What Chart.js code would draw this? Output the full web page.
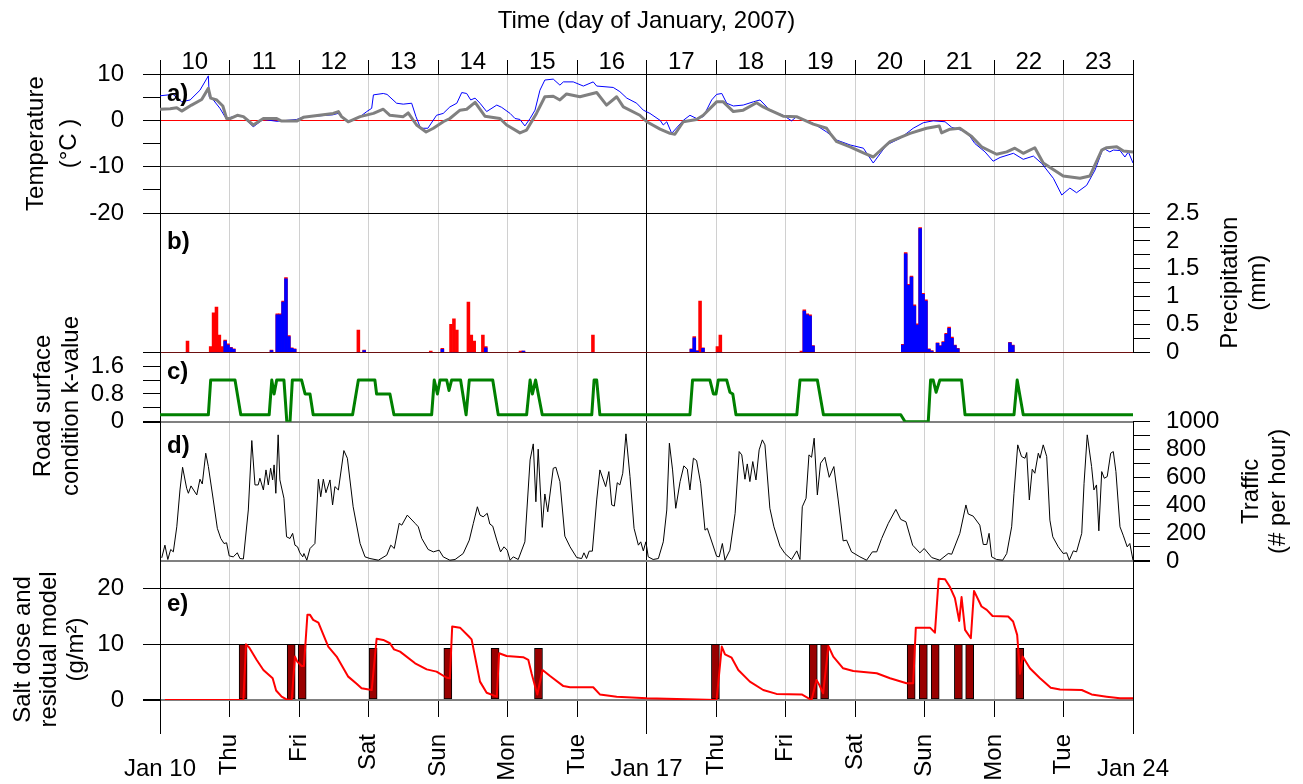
<!DOCTYPE html>
<html>
<head>
<meta charset="utf-8">
<title>Road weather, salt and traffic, January 2007</title>
<script src="https://cdn.jsdelivr.net/npm/chart.js@4.4.1/dist/chart.umd.min.js"></script>
<style>
  html, body { margin: 0; padding: 0; background: #fff; }
  #wrap { width: 1303px; height: 784px; position: relative; }
</style>
</head>
<body>
<div id="wrap"><canvas id="chart-canvas"></canvas></div>
<script>
// all times are hours since Jan 10 2007, 00:00
const dayNumbers = [10, 11, 12, 13, 14, 15, 16, 17, 18, 19, 20, 21, 22, 23];
const dayStartHours = [0, 24, 48, 72, 96, 120, 144, 168, 192, 216, 240, 264, 288, 312, 336];
const weekdayLabels = ['', 'Thu', 'Fri', 'Sat', 'Sun', 'Mon', 'Tue', '', 'Thu', 'Fri', 'Sat', 'Sun', 'Mon', 'Tue', ''];
const dateLabelHours = [0, 168, 336];
const dateLabels = ['Jan 10', 'Jan 17', 'Jan 24'];

const tempTicks = [-20, -15, -10, -5, 0, 5, 10];
const tempLabels = [-20, -10, 0, 10];
const precipTicks = [0, 0.25, 0.5, 0.75, 1, 1.25, 1.5, 1.75, 2, 2.25, 2.5];
const precipLabels = [0, 0.5, 1, 1.5, 2, 2.5];
const kTicks = [0, 0.4, 0.8, 1.2, 1.6, 2];
const kLabels = [0, 0.8, 1.6];
const trafficTicks = [0, 100, 200, 300, 400, 500, 600, 700, 800, 900, 1000];
const trafficLabels = [0, 200, 400, 600, 800, 1000];
const saltTicks = [0, 10, 20];

// a) temperature, thin blue and thick grey curves
const blueHours = [0, 4.5, 7.5, 10.4, 13.8, 16.7, 17.0, 18.4, 20.7, 22.8,
  26.6, 28.7, 32.2, 35.6, 40.4, 47.2, 49.4, 59.7, 61.5, 62.7,
  65.0, 69.1, 71.4, 73.1, 73.7, 77.1, 78.4, 81.7, 84.0, 86.9,
  88.4, 90.0, 92.5, 95.5, 97.8, 100.1, 102.5, 104.2, 105.9, 107.3,
  108.8, 110.5, 112.8, 116.3, 118.0, 120.9, 122.6, 124.3, 126.0, 127.8,
  129.5, 131.2, 132.9, 135.8, 138.1, 139.3, 142.7, 146.2, 149.6, 150.8,
  156.5, 158.8, 161.2, 164.6, 166.9, 169.2, 172.7, 173.8, 175.0, 176.7,
  180.7, 183.0, 185.3, 187.6, 190.5, 192.2, 194.0, 195.7, 198.0, 201.4,
  204.9, 207.2, 210.6, 215.2, 218.1, 219.8, 225.6, 230.2, 233.7, 238.3,
  242.9, 246.3, 250.9, 255.5, 260.1, 263.6, 267.0, 271.1, 273.4, 278.6,
  281.4, 284.9, 287.7, 290.1, 294.7, 298.1, 301.6, 304.5, 308.5, 311.4,
  314.2, 316.5, 320.0, 322.9, 325.7, 328.0, 329.2, 331.5, 333.2, 334.4, 336];
const blueTemp = [5.3, 5.6, 4.0, 4.4, 6.5, 9.6, 5.1, 4.4, 2.6, 0.4,
  1.0, 0.8, -1.4, 0.2, -0.2, 0.2, 0.7, 1.2, 1.5, 0.8,
  -0.3, 0.8, 1.9, 2.6, 5.5, 5.8, 5.6, 3.7, 3.5, 3.7,
  0.8, -1.7, -1.7, 1.1, 1.5, 2.9, 3.7, 6.0, 5.8, 4.4,
  4.8, 3.7, 1.9, 3.3, 2.8, 1.5, 0.4, 0.2, -1.2, 0.4,
  2.2, 6.5, 8.7, 8.9, 7.6, 8.3, 8.3, 7.4, 8.3, 7.4,
  7.1, 6.2, 4.8, 3.7, 2.2, 1.5, 0.0, -1.0, -0.3, -2.8,
  0.0, 1.1, 0.4, 0.8, 4.4, 5.6, 5.8, 3.7, 3.1, 3.3,
  4.0, 4.4, 2.2, 1.1, -0.1, 0.8, -0.65, -2.5, -4.25, -5.3,
  -6.0, -9.2, -5.3, -3.9, -1.7, -0.5, -0.1, -0.3, -1.5, -2.5,
  -5.0, -6.8, -8.8, -8.0, -7.1, -8.4, -7.7, -9.3, -12.5, -16.1,
  -14.6, -15.6, -14.0, -10.7, -6.0, -6.8, -6.4, -6.5, -7.9, -6.8, -9.2];
const greyHours = [0, 3.5, 5.8, 7.5, 10.9, 14.4, 16.7, 17.5, 19.6, 21.7,
  23.0, 24.2, 26.7, 28.8, 32.2, 35.7, 40.3, 42.0, 47.2, 49.5,
  59.8, 61.6, 62.7, 65.0, 69.1, 73.7, 77.1, 79.4, 84.0, 85.7,
  88.6, 91.9, 94.4, 97.8, 100.1, 103.6, 105.9, 108.8, 112.2, 117.4,
  119.7, 124.3, 126.6, 130.0, 132.9, 135.8, 138.1, 140.4, 145.0, 150.8,
  154.2, 157.7, 160.0, 165.7, 168.1, 172.7, 176.1, 177.8, 180.7, 185.3,
  187.6, 192.2, 194.5, 198.0, 201.4, 206.0, 208.3, 210.6, 215.2, 219.8,
  225.6, 230.2, 231.4, 233.7, 238.3, 242.9, 246.3, 252.1, 259.0, 264.7,
  269.1, 269.9, 272.8, 276.2, 280.3, 283.7, 288.9, 292.4, 295.2, 298.1,
  302.1, 305.0, 311.9, 317.7, 321.1, 325.2, 326.9, 330.4, 332.7, 336];
const greyTemp = [2.4, 2.5, 2.7, 2.0, 3.3, 4.5, 6.9, 4.8, 4.4, 3.1,
  0.4, 0.4, 1.1, 0.8, -1.0, 0.4, 0.4, -0.15, -0.15, 0.65,
  1.5, 1.9, 0.8, -0.3, 0.8, 1.5, 2.4, 1.1, 0.8, 1.6,
  -1.0, -2.5, -1.7, -0.3, 0.4, 2.2, 2.4, 3.9, 0.9, 0.4,
  -1.0, -2.7, -2.1, 1.5, 5.1, 5.2, 4.4, 5.7, 5.1, 6.0,
  3.3, 5.1, 2.9, 1.1, -0.3, -1.9, -2.8, -3.0, -0.3, 0.2,
  1.1, 4.0, 4.0, 1.9, 2.2, 3.8, 2.9, 2.2, 0.9, 0.8,
  -0.8, -1.7, -2.8, -4.6, -5.7, -7.0, -7.9, -4.6, -2.8, -1.7,
  -1.2, -2.7, -1.9, -1.7, -3.5, -5.7, -7.3, -6.8, -6.0, -7.1,
  -5.9, -9.2, -12.0, -12.5, -12.0, -6.4, -5.9, -5.7, -6.6, -6.8];

// b) hourly precipitation (hour index, total in red, snow part in blue)
const precipHour = [9, 17, 18, 19, 20, 21, 22, 23, 24, 25, 38, 40, 41, 42, 43, 44, 45, 46,
  68, 70, 93, 97, 100, 101, 102, 106, 107, 108, 111, 112, 124, 125, 149,
  183, 184, 185, 186, 187, 192, 193, 221, 222, 223, 224, 225,
  256, 257, 258, 259, 260, 261, 262, 263, 264, 265, 266,
  268, 269, 270, 271, 272, 273, 274, 275, 293, 294];
const precipTotal = [0.2, 0.1, 0.71, 0.81, 0.31, 0.1, 0.22, 0.15, 0.09, 0.06, 0.04, 0.69, 0.69, 0.92, 1.34, 0.3, 0.08, 0.06,
  0.4, 0.04, 0.02, 0.07, 0.5, 0.6, 0.4, 0.9, 0.31, 0.2, 0.31, 0.1, 0.02, 0.02, 0.31,
  0.06, 0.28, 0.03, 0.92, 0.08, 0.1, 0.31, 0.02, 0.76, 0.69, 0.67, 0.12,
  0.14, 1.79, 1.22, 1.37, 0.85, 0.51, 2.24, 1.06, 0.94, 0.06, 0.03,
  0.17, 0.12, 0.19, 0.34, 0.45, 0.27, 0.13, 0.07, 0.18, 0.13];
const precipSnow = [0, 0, 0, 0, 0, 0, 0.2, 0.13, 0.08, 0.05, 0.03, 0.67, 0.67, 0.9, 1.32, 0.28, 0.07, 0.05,
  0, 0.03, 0, 0.05, 0, 0, 0, 0, 0, 0, 0, 0.08, 0, 0.02, 0,
  0.05, 0.26, 0.02, 0, 0.07, 0, 0, 0, 0.74, 0.67, 0.65, 0.11,
  0.13, 1.77, 1.2, 1.35, 0.83, 0.49, 2.22, 1.04, 0.92, 0.05, 0.02,
  0.16, 0.11, 0.18, 0.32, 0.43, 0.25, 0.12, 0.06, 0.17, 0.12];

// c) road surface condition k-value
const kHours = [0, 16.7, 17.5, 25.9, 27.9, 37.7, 38.6, 39.4, 40.3, 42.8,
  43.8, 44.9, 45.7, 48.9, 50.1, 51.8, 52.9, 66.5, 68.5, 74.2,
  74.8, 79.4, 80.8, 93.8, 94.7, 95.8, 96.7, 99.0, 99.8, 100.7,
  103.8, 105.7, 106.8, 114.9, 116.8, 126.6, 127.8, 128.6, 129.7, 132.0,
  149.1, 149.9, 150.8, 151.9, 183.0, 183.9, 189.9, 191.1, 192.0, 192.8,
  195.7, 196.8, 197.8, 198.9, 219.9, 221.0, 227.0, 229.1, 255.8, 257.3,
  265.3, 266.1, 267.0, 268.0, 269.3, 276.8, 278.0, 294.9, 296.0, 298.1, 336];
const kValue = [0.2, 0.2, 1.2, 1.2, 0.2, 0.2, 1.2, 0.8, 1.2, 1.2,
  0, 0, 1.2, 1.2, 0.8, 0.8, 0.2, 0.2, 1.2, 1.2,
  0.8, 0.8, 0.2, 0.2, 1.2, 0.8, 1.2, 1.2, 0.9, 1.2,
  1.2, 0.2, 1.2, 1.2, 0.2, 0.2, 1.2, 0.8, 1.2, 0.2,
  0.2, 1.2, 1.2, 0.2, 0.2, 1.2, 1.2, 0.8, 0.8, 1.2,
  1.2, 0.85, 0.8, 0.2, 0.2, 1.2, 1.2, 0.2, 0.2, 0,
  0, 1.2, 1.2, 0.85, 1.2, 1.2, 0.2, 0.2, 1.2, 0.2, 0.2];

// d) traffic, vehicles per hour
const trafficHours = [0.6, 1.7, 2.7, 3.7, 4.6, 5.8, 6.9, 7.8, 9.2, 9.8,
  10.7, 12.7, 13.8, 14.6, 15.8, 16.7, 18.4, 19.8, 21.0, 22.1,
  23.0, 23.9, 25.3, 26.7, 27.6, 28.8, 30.5, 31.7, 32.8, 33.9,
  34.5, 35.7, 36.6, 37.4, 38.2, 38.9, 39.4, 40.0, 40.8, 41.4,
  42.8, 43.7, 44.9, 45.8, 46.6, 47.5, 48.3, 49.3, 49.7, 50.7,
  51.8, 53.5, 54.7, 55.5, 56.4, 57.3, 58.7, 59.6, 60.4, 61.6,
  63.5, 64.7, 66.7, 69.1, 70.8, 72.5, 75.4, 78.3, 79.7, 80.9,
  82.6, 83.5, 85.4, 88.1, 89.2, 90.4, 92.6, 94.4, 96.4, 97.8,
  100.1, 101.9, 104.7, 106.8, 108.2, 109.6, 110.5, 111.6, 113.0, 113.9,
  114.9, 116.3, 117.6, 118.8, 119.9, 120.9, 122.0, 123.7, 126.0, 127.8,
  128.9, 129.8, 130.6, 132.0, 132.9, 133.9, 135.8, 136.7, 138.1, 139.8,
  141.6, 143.9, 145.6, 146.4, 147.3, 148.2, 149.3, 150.8, 151.9, 153.9,
  155.0, 156.0, 156.9, 157.9, 158.8, 159.8, 160.9, 162.3, 163.7, 165.2,
  166.0, 166.9, 167.8, 168.6, 170.3, 172.1, 173.8, 175.0, 175.9, 177.0,
  178.1, 179.6, 180.9, 182.1, 183.0, 184.2, 185.3, 186.7, 188.2, 189.0,
  192.2, 193.1, 194.2, 195.1, 196.8, 198.6, 200.0, 200.9, 202.0, 202.8,
  203.7, 204.7, 205.8, 206.9, 208.0, 208.9, 210.6, 212.0, 214.1, 215.8,
  218.1, 219.9, 221.0, 221.8, 223.1, 224.1, 225.0, 225.9, 227.0, 228.1,
  229.6, 231.1, 232.7, 234.2, 235.9, 237.1, 238.8, 241.7, 244.0, 246.0,
  247.5, 249.2, 251.5, 254.1, 255.8, 257.6, 259.9, 262.4, 263.9, 266.5,
  269.3, 272.2, 273.4, 276.2, 278.3, 279.1, 280.8, 283.1, 284.3, 285.5,
  286.3, 287.2, 288.9, 291.0, 292.4, 294.1, 294.9, 296.2, 297.5, 298.7,
  299.3, 300.2, 301.2, 302.1, 303.3, 303.9, 305.0, 306.2, 307.3, 308.3,
  310.2, 311.9, 313.1, 314.0, 315.4, 316.5, 318.3, 319.1, 320.2, 321.7,
  322.5, 323.4, 324.2, 325.2, 326.1, 327.1, 328.3, 329.2, 330.1, 331.5,
  332.6, 334.0, 334.9, 336];
const trafficCount = [22, 113, 10, 82, 65, 245, 510, 673, 522, 486,
  539, 474, 587, 553, 774, 678, 438, 234, 161, 125,
  130, 36, 29, 58, 17, 14, 366, 865, 546, 546,
  594, 510, 654, 546, 666, 582, 690, 486, 906, 582,
  450, 173, 161, 198, 113, 101, 58, 29, 53, 5,
  89, 125, 587, 461, 587, 490, 582, 402, 534, 510,
  793, 738, 389, 125, 29, 17, 5, 41, 113, 89,
  270, 257, 329, 270, 245, 161, 82, 65, 77, 29,
  5, 10, 53, 149, 270, 389, 329, 317, 342, 265,
  250, 149, 65, 101, 77, 5, 29, 10, 137, 726,
  841, 425, 803, 241, 481, 353, 666, 673, 570, 178,
  101, 24, 17, 58, 17, 70, 70, 438, 654, 534,
  642, 402, 394, 562, 546, 630, 913, 606, 234, 113,
  137, 72, 137, 29, 10, 17, 137, 366, 846, 654,
  378, 570, 683, 659, 510, 738, 721, 558, 221, 234,
  34, 29, 125, 5, 77, 342, 786, 762, 587, 697,
  570, 714, 582, 798, 870, 834, 378, 245, 106, 53,
  10, 72, 10, 389, 450, 762, 745, 882, 474, 702,
  745, 601, 678, 438, 144, 149, 65, 29, 5, 65,
  65, 161, 270, 370, 298, 281, 113, 58, 89, 24,
  5, 53, 48, 198, 402, 337, 322, 257, 118, 118,
  198, 29, 10, 5, 53, 245, 486, 834, 750, 738,
  779, 438, 659, 630, 774, 738, 834, 750, 293, 173,
  101, 53, 58, 5, 72, 65, 198, 558, 906, 678,
  510, 546, 216, 642, 594, 606, 774, 786, 642, 245,
  185, 101, 125, 5];

// e) salt doses (bars) and residual salt model (line), g/m2
const saltHour = [28.7, 45.3, 49.1, 73.6, 99.4, 115.7, 130.7, 191.8, 225.6, 229.5, 259.4, 263.6, 267.7, 275.7, 279.6, 296.9];
const saltDose = [10, 10, 10, 9.3, 9.3, 9.3, 9.3, 10, 10, 10, 10, 10, 10, 10, 10, 9.3];
const residualHours = [1.7, 28.8, 29.7, 30.8, 33.4, 35.7, 38.9, 40.1, 42.0, 43.7,
  45.5, 46.6, 47.4, 48.9, 49.7, 50.9, 51.8, 52.9, 54.7, 58.1,
  61.0, 65.0, 67.9, 69.6, 73.1, 74.8, 77.1, 79.4, 80.8, 82.9,
  88.1, 92.1, 95.5, 99.0, 100.1, 100.9, 103.6, 106.5, 107.6, 110.5,
  112.8, 116.3, 117.1, 119.7, 125.4, 127.2, 128.3, 130.3, 132.1, 134.7,
  139.3, 141.6, 149.6, 151.9, 157.7, 168.1, 192.2, 194.0, 195.1, 197.4,
  199.7, 203.7, 208.3, 212.9, 221.6, 225.0, 226.7, 227.7, 229.0, 230.8,
  232.5, 235.9, 239.4, 247.5, 252.1, 257.8, 260.1, 261.0, 265.9, 267.6,
  268.9, 271.1, 272.8, 274.5, 276.0, 276.8, 278.0, 280.0, 281.1, 283.7,
  285.5, 287.5, 292.9, 294.6, 296.0, 297.0, 297.9, 300.4, 303.9, 307.6,
  310.8, 318.3, 321.7, 326.9, 331.5, 336];
const residualSalt = [0, 0, 10, 9.45, 7.2, 5.4, 3.9, 1.7, 0.6, 0.1,
  0.1, 7.8, 6.9, 6.1, 6.1, 15.3, 15.3, 14.4, 13.9, 9.6,
  7.8, 4.2, 2.9, 2.1, 1.8, 11.0, 10.8, 10.2, 9.1, 8.7,
  6.6, 5.5, 5.1, 4.0, 3.9, 13.2, 13.0, 11.5, 10.9, 3.3,
  1.3, 0.6, 8.4, 7.9, 7.7, 7.2, 4.8, 1.0, 5.4, 4.3,
  2.5, 2.3, 2.3, 1.0, 0.6, 0.3, 0, 9.6, 8.2, 7.6,
  5.4, 3.3, 1.8, 1.1, 1.0, 0, 3.6, 2.7, 1.2, 9.7,
  7.8, 5.7, 5.2, 4.8, 3.9, 3.0, 3.0, 13.0, 13.0, 12.1,
  21.8, 21.7, 20.3, 18.3, 14.2, 18.5, 12.6, 11.1, 19.6, 16.8,
  16.2, 15.1, 15.0, 14.1, 11.7, 4.7, 7.8, 5.7, 3.9, 2.2,
  1.9, 1.8, 1.0, 0.6, 0.3, 0.3];

const panelLetters = [
  { axis: 'yA', text: 'a)', dy: 27 },
  { axis: 'yB', text: 'b)', dy: 36 },
  { axis: 'yC', text: 'c)', dy: 27 },
  { axis: 'yD', text: 'd)', dy: 31 },
  { axis: 'yE', text: 'e)', dy: 50 }
];
const sideTitles = [
  { axis: 'yA', lines: ['Temperature', '(°C )'], x: [43, 76], dy: 0 },
  { axis: 'yC', lines: ['Road surface', 'condition k-value'], x: [50, 78], dy: 19 },
  { axis: 'yE', lines: ['Salt dose and', 'residual model', '(g/m²)'], x: [30, 56, 83], dy: 19 },
  { axis: 'yB', lines: ['Precipitation', '(mm)'], x: [1237, 1265], dy: 0 },
  { axis: 'yD', lines: ['Traffic', '(# per hour)'], x: [1258, 1285], dy: 0 }
];

const FONT = "'Liberation Sans', Arial, Helvetica, sans-serif";
Chart.defaults.font.family = FONT;
Chart.defaults.font.size = 24;
Chart.defaults.color = '#000';

const NONE = 'rgba(0,0,0,0)';
const pairs = (xs, ys) => xs.map((x, i) => ({ x: x, y: ys[i] }));
const setTicks = values => scale => { scale.ticks = values.map(v => ({ value: v })); };
const showOnly = labels => v => labels.includes(v) ? String(v) : '';
const lineStyle = (map, fallback) => c => (c.tick && map[c.tick.value] !== undefined) ? map[c.tick.value] : fallback;

function panelAxis(position, weight, stackWeight, ticks, labels, min, max, colors, widths, padding) {
  return {
    type: 'linear', position: position, stack: position, stackWeight: stackWeight, weight: weight,
    min: min, max: max,
    afterBuildTicks: setTicks(ticks),
    afterFit: s => { s.width = position === 'left' ? 160 : 170; },
    ticks: { autoSkip: false, padding: padding, callback: showOnly(labels) },
    grid: { tickLength: 17, tickColor: '#000', color: lineStyle(colors, NONE), lineWidth: lineStyle(widths, 1) },
    border: { display: true, color: '#000' }
  };
}
function spacerAxis(position, weight, stackWeight, border) {
  return {
    type: 'linear', position: position, stack: position, stackWeight: stackWeight, weight: weight,
    min: 0, max: 1,
    afterFit: s => { s.width = position === 'left' ? 160 : 170; },
    ticks: { display: false },
    grid: { display: false },
    border: { display: border, color: '#000' }
  };
}

const figureText = {
  id: 'figureText',
  afterDraw(chart) {
    const { ctx, scales, chartArea } = chart;
    ctx.save();
    ctx.fillStyle = '#000';
    ctx.textBaseline = 'alphabetic';
    ctx.font = 'bold 24px ' + FONT;
    ctx.textAlign = 'left';
    panelLetters.forEach(p => ctx.fillText(p.text, chartArea.left + 7, scales[p.axis].top + p.dy));

    ctx.font = '24px ' + FONT;
    ctx.textAlign = 'center';
    sideTitles.forEach(t => {
      const s = scales[t.axis];
      const cy = (s.top + s.bottom) / 2 + t.dy;
      t.lines.forEach((line, i) => {
        ctx.save();
        ctx.translate(t.x[i], cy);
        ctx.rotate(-Math.PI / 2);
        ctx.fillText(line, 0, 0);
        ctx.restore();
      });
    });

    const xs = scales.x;
    ctx.strokeStyle = '#000';
    ctx.lineWidth = 1;
    dateLabelHours.forEach((h, i) => {
      const px = xs.getPixelForValue(h);
      const lx = Math.round(px - 0.5) + 0.5;
      ctx.beginPath();
      ctx.moveTo(lx, xs.top + 17);
      ctx.lineTo(lx, xs.top + 34);
      ctx.stroke();
      ctx.fillText(dateLabels[i], px, xs.top + 76);
    });
    ctx.restore();
  }
};

const ctx = document.getElementById('chart-canvas');
new Chart(ctx, {
  type: 'line',
  data: {
    datasets: [
      { label: 'grey temperature', data: pairs(greyHours, greyTemp), xAxisID: 'x', yAxisID: 'yA',
        borderColor: '#808080', borderWidth: 3, borderJoinStyle: 'round', pointRadius: 0, order: 1 },
      { label: 'blue temperature', data: pairs(blueHours, blueTemp), xAxisID: 'x', yAxisID: 'yA',
        borderColor: '#0000ff', borderWidth: 1, pointRadius: 0, order: 2 },
      { type: 'bar', label: 'snow', data: pairs(precipHour.map(h => h + 0.5), precipSnow), xAxisID: 'x', yAxisID: 'yB',
        backgroundColor: '#0000ff', borderWidth: 0, barThickness: 2.9, grouped: false, order: 3 },
      { type: 'bar', label: 'precipitation', data: pairs(precipHour.map(h => h + 0.5), precipTotal), xAxisID: 'x', yAxisID: 'yB',
        backgroundColor: '#ff0000', borderWidth: 0, barThickness: 2.9, grouped: false, order: 4 },
      { label: 'k-value', data: pairs(kHours, kValue), xAxisID: 'x', yAxisID: 'yC',
        borderColor: '#008000', borderWidth: 3, borderJoinStyle: 'round', pointRadius: 0, order: 5 },
      { label: 'traffic', data: pairs(trafficHours, trafficCount), xAxisID: 'x', yAxisID: 'yD',
        borderColor: '#000000', borderWidth: 1, pointRadius: 0, order: 6 },
      { label: 'residual salt', data: pairs(residualHours, residualSalt), xAxisID: 'x', yAxisID: 'yE',
        borderColor: '#ff0000', borderWidth: 2, borderJoinStyle: 'round', pointRadius: 0, order: 7 },
      { type: 'bar', label: 'salt dose', data: pairs(saltHour, saltDose), xAxisID: 'x', yAxisID: 'yE',
        backgroundColor: '#990000', borderColor: '#000000', borderWidth: 1, borderSkipped: false,
        barThickness: 8, grouped: false, order: 8 }
    ]
  },
  options: {
    responsive: true,
    maintainAspectRatio: false,
    animation: false,
    events: [],
    layout: { padding: 0 },
    plugins: { legend: { display: false }, tooltip: { enabled: false } },
    scales: {
      x: {
        type: 'linear', position: 'bottom', min: 0, max: 336, offset: false,
        afterBuildTicks: setTicks(dayStartHours),
        afterFit: s => { s.height = 84; },
        ticks: { autoSkip: false, minRotation: 90, maxRotation: 90, padding: 17,
          callback: (v, i) => weekdayLabels[i] },
        grid: { offset: false, tickLength: 17, tickColor: '#000',
          color: lineStyle({ 0: NONE, 168: '#000000', 336: NONE }, '#d0d0d0') },
        border: { display: false }
      },
      xTop: {
        type: 'linear', position: 'top', min: 0, max: 336, offset: false,
        afterBuildTicks: setTicks(dayStartHours.flatMap(h => [h, h + 12]).slice(0, -1)),
        afterFit: s => { s.height = 74; },
        ticks: { autoSkip: false, maxRotation: 0, padding: -17,
          callback: (v, i) => i % 2 ? String(dayNumbers[(i - 1) / 2]) : '' },
        grid: { drawOnChartArea: false, tickLength: 14,
          tickColor: c => (c.tick && c.tick.value % 24 === 0) ? '#000' : NONE },
        border: { display: true, color: '#000' },
        title: { display: true, text: 'Time (day of January, 2007)', padding: { top: 7, bottom: 0 } }
      },
      yA: panelAxis('left', 5, 2, tempTicks, tempLabels, -20, 10,
        { 10: '#000', 0: '#ff0000', '-10': '#444', '-20': '#000' }, {}, 19),
      yBL: spacerAxis('left', 4, 2, true),
      yC: panelAxis('left', 3, 1, kTicks, kLabels, 0, 2, { 0: '#808080' }, { 0: 2 }, 19),
      yDL: spacerAxis('left', 2, 2, true),
      yE: panelAxis('left', 1, 2, saltTicks, saltTicks, 0, 25,
        { 0: '#808080', 10: '#000', 20: '#000' }, { 0: 2 }, 19),
      yAR: spacerAxis('right', 1, 2, true),
      yB: panelAxis('right', 2, 2, precipTicks, precipLabels, 0, 2.5,
        { 2.5: '#000', 0: '#6b1010' }, {}, 16),
      yCR: spacerAxis('right', 3, 1, false),
      yD: panelAxis('right', 4, 2, trafficTicks, trafficLabels, 0, 1000, { 0: '#808080' }, { 0: 2 }, 16),
      yER: spacerAxis('right', 5, 2, true)
    }
  },
  plugins: [figureText]
});
</script>
</body>
</html>
